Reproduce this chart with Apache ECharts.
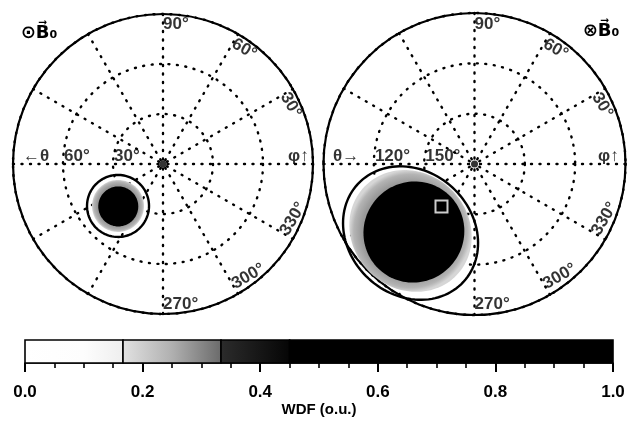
<!DOCTYPE html>
<html><head><meta charset="utf-8">
<script src="https://cdn.jsdelivr.net/npm/echarts@6/dist/echarts.min.js"></script>
<style>html,body{margin:0;padding:0;background:#fff}#c{width:635px;height:424px}</style>
</head><body><div id="c"></div><script>
// ---------- data ----------
const phiTickValues = [90, 60, 30, 330, 300, 270];
const phiTickLabels = ['90°', '60°', '30°', '330°', '300°', '270°'];
const thetaTickValuesLeft = [60, 30];
const thetaTickLabelsLeft = ['60°', '30°'];
const thetaTickValuesRight = [120, 150];
const thetaTickLabelsRight = ['120°', '150°'];
// blob levels: [theta (deg), phi (deg), radial semi-axis (deg), tangential semi-axis (deg), level]
// level 0 = contour line, 1 = grey halo, 2 = dense core
const leftBlob = [
  [36.9, 223.0, 18.6, 18.6, 0],
  [36.9, 223.0, 15.6, 15.6, 1],
  [37.0, 223.5, 12.0, 12.0, 2]
];
const rightBlob = [
  [123.9, 227.2, 36.9, 42.9, 0],
  [124.8, 226.3, 34.6, 38.1, 1],
  [125.7, 228.3, 30.4, 29.8, 2]
];
const rightMarker = [147.9, 232.2];
const wdfBreaks = [0, 1 / 6, 1 / 3, 0.45, 1];
const wdfTickStep = 0.2;

// ---------- presentation ----------
const FONT = "'Liberation Sans', Arial, sans-serif";
const black = '#000';
const dotted = { color: black, width: 2.4, type: [1, 7.5], cap: 'round' };

function haloFill() {
  return new echarts.graphic.RadialGradient(0.5, 0.5, 0.5, [
    { offset: 0, color: '#7a7a7a' },
    { offset: 0.8, color: '#9a9a9a' },
    { offset: 0.93, color: '#b4b4b4' },
    { offset: 1, color: '#d6d6d6' }
  ]);
}

function blobItem(params, api) {
  const th = api.value(0), ph = api.value(1), rs = api.value(2), ts = api.value(3), lvl = api.value(4);
  const c = api.coord([th, ph]);
  const p = api.coord([th + rs, ph]);
  const vr = [p[0] - c[0], p[1] - c[1]];
  const k = ts / rs;
  const vt = [-vr[1] * k, vr[0] * k];
  const pts = [];
  const n = 120;
  for (let i = 0; i < n; i++) {
    const t = i / n * 2 * Math.PI;
    pts.push([c[0] + Math.cos(t) * vr[0] + Math.sin(t) * vt[0],
              c[1] + Math.cos(t) * vr[1] + Math.sin(t) * vt[1]]);
  }
  let style;
  if (lvl === 0) style = { fill: 'none', stroke: black, lineWidth: 2.4 };
  else if (lvl === 1) style = { fill: haloFill(), stroke: null };
  else style = { fill: black, stroke: null };
  return { type: 'polygon', shape: { points: pts }, style: style, z2: lvl };
}

function rot(phi) {
  let r = phi - 90;
  while (r > 90) r -= 180;
  while (r < -90) r += 180;
  return r;
}

const labelBase = { show: true, position: 'right', distance: 0, color: black, fontSize: 17, fontWeight: 'bold', fontFamily: FONT };

function phiLabelData(rLab) {
  return phiTickValues.map((v, i) => ({
    value: [rLab, v],
    label: Object.assign({}, labelBase, { formatter: phiTickLabels[i], rotate: rot(v) })
  }));
}
function thetaLabelData(vals, labs) {
  return vals.map((v, i) => ({
    value: [v, 180],
    label: Object.assign({}, labelBase, { formatter: labs[i], offset: [1, -8] })
  }));
}
function textAt(r, phi, txt, fs) {
  return { value: [r, phi], label: Object.assign({}, labelBase, { formatter: txt, offset: [0, -8], fontSize: fs || 17 }) };
}

function polarAxes(idx, inverse) {
  return {
    angle: {
      polarIndex: idx, type: 'value', min: 0, max: 360, interval: 30, startAngle: 0, clockwise: false,
      axisLine: { show: true, lineStyle: { color: black, width: 2.2 } },
      axisTick: { show: false }, axisLabel: { show: false },
      splitLine: { show: true, lineStyle: dotted }
    },
    radius: {
      polarIndex: idx, type: 'value', min: inverse ? 90 : 0, max: inverse ? 180 : 90, interval: 30, inverse: inverse,
      axisLine: { show: false }, axisTick: { show: false }, axisLabel: { show: false },
      splitLine: { show: true, lineStyle: dotted }
    }
  };
}
const axL = polarAxes(0, false), axR = polarAxes(1, true);

const labelSeriesBase = { type: 'scatter', coordinateSystem: 'polar', symbolSize: 0.1, itemStyle: { color: 'rgba(0,0,0,0)' }, silent: true, z: 5 };

const chart = echarts.init(document.getElementById('c'), null, { renderer: 'canvas' });
chart.setOption({
  animation: false,
  backgroundColor: '#fff',
  polar: [
    { center: [163, 164], radius: 150 },
    { center: [474.5, 164], radius: 151 }
  ],
  angleAxis: [axL.angle, axR.angle],
  radiusAxis: [axL.radius, axR.radius],
  grid: { left: 25, width: 588, top: 340, height: 23, show: false },
  xAxis: {
    type: 'value', min: 0, max: 1, interval: wdfTickStep,
    axisLine: { show: true, onZero: false, lineStyle: { color: black, width: 1.6 } },
    axisTick: { show: true, length: 9, lineStyle: { color: black, width: 2 } },
    minorTick: { show: true, splitNumber: 4, length: 5, lineStyle: { color: black, width: 1.6 } },
    splitLine: { show: false },
    axisLabel: { color: black, fontSize: 17, fontWeight: 'bold', fontFamily: FONT, margin: 21, formatter: v => v.toFixed(1) },
    name: 'WDF (o.u.)', nameLocation: 'middle', nameGap: 37,
    nameTextStyle: { color: black, fontSize: 15, fontWeight: 'bold', fontFamily: FONT }
  },
  yAxis: { type: 'value', min: 0, max: 1, show: false },
  graphic: [
    { type: 'text', x: 39, y: 33, style: { text: '⊙B\u20D7\u2080', fill: black, font: "bold 18px 'DejaVu Sans', sans-serif", align: 'center', verticalAlign: 'middle' } },
    { type: 'text', x: 601, y: 31, style: { text: '⊗B\u20D7\u2080', fill: black, font: "bold 18px 'DejaVu Sans', sans-serif", align: 'center', verticalAlign: 'middle' } }
  ],
  series: [
    // colour bar
    {
      type: 'custom', xAxisIndex: 0, yAxisIndex: 0, silent: true,
      data: wdfBreaks.slice(0, -1).map((b, i) => [b, wdfBreaks[i + 1], i]),
      renderItem: function (params, api) {
        const a = api.coord([api.value(0), 1]);
        const b = api.coord([api.value(1), 0]);
        const fills = [
          new echarts.graphic.LinearGradient(0, 0, 1, 0, [{ offset: 0, color: '#fff' }, { offset: 0.6, color: '#fdfdfd' }, { offset: 1, color: '#eeeeee' }]),
          new echarts.graphic.LinearGradient(0, 0, 1, 0, [{ offset: 0, color: '#e2e2e2' }, { offset: 0.5, color: '#b0b0b0' }, { offset: 1, color: '#6a6a6a' }]),
          new echarts.graphic.LinearGradient(0, 0, 1, 0, [{ offset: 0, color: '#2c2c2c' }, { offset: 1, color: '#050505' }]),
          '#000'
        ];
        return {
          type: 'rect',
          shape: { x: a[0], y: a[1], width: b[0] - a[0], height: b[1] - a[1] },
          style: { fill: fills[api.value(2)], stroke: black, lineWidth: 1.6 }
        };
      }
    },
    // blobs
    { type: 'custom', coordinateSystem: 'polar', polarIndex: 0, data: leftBlob, renderItem: blobItem, silent: true, z: 3 },
    { type: 'custom', coordinateSystem: 'polar', polarIndex: 1, data: rightBlob, renderItem: blobItem, silent: true, z: 3 },
    {
      type: 'scatter', coordinateSystem: 'polar', polarIndex: 1, data: [rightMarker], symbol: 'rect', symbolSize: 12,
      itemStyle: { color: black, borderColor: '#fff', borderWidth: 2 }, silent: true, z: 4
    },
    // centre dots
    { type: 'scatter', coordinateSystem: 'polar', polarIndex: 0, data: [[0, 0]], symbolSize: 7, itemStyle: { color: black }, silent: true, z: 4 },
    { type: 'scatter', coordinateSystem: 'polar', polarIndex: 1, data: [[180, 0]], symbolSize: 7, itemStyle: { color: black }, silent: true, z: 4 },
    // axis labels drawn inside the dials
    Object.assign({}, labelSeriesBase, { polarIndex: 0, data: phiLabelData(84) }),
    Object.assign({}, labelSeriesBase, { polarIndex: 1, data: phiLabelData(96.6) }),
    Object.assign({}, labelSeriesBase, { polarIndex: 0, data: thetaLabelData(thetaTickValuesLeft, thetaTickLabelsLeft) }),
    Object.assign({}, labelSeriesBase, { polarIndex: 1, data: thetaLabelData(thetaTickValuesRight, thetaTickLabelsRight) }),
    Object.assign({}, labelSeriesBase, { polarIndex: 0, data: [textAt(84, 180, '←θ'), textAt(75, 0, 'φ↑')] }),
    Object.assign({}, labelSeriesBase, { polarIndex: 1, data: [textAt(95.7, 180, 'θ→'), textAt(106.4, 0, 'φ↑')] })
  ]
});
</script></body></html>
